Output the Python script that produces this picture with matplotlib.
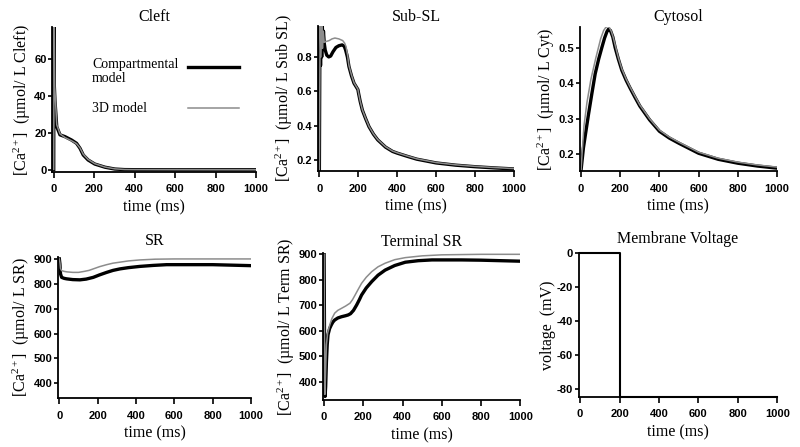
import matplotlib
matplotlib.use("Agg")
import matplotlib.pyplot as plt

plt.rcParams["font.family"] = ["Liberation Serif", "DejaVu Serif"]
plt.rcParams["mathtext.fontset"] = "custom"
plt.rcParams["mathtext.rm"] = "Liberation Serif"
plt.rcParams["mathtext.it"] = "Liberation Serif:italic"
plt.rcParams["axes.unicode_minus"] = False

# ---- data (time in ms) ----
cleft_t_comp = [0, 1, 2, 6, 15, 31, 56, 88, 113, 130, 146, 170, 203, 253, 302, 350, 400, 600, 800, 1000]
cleft_comp = [0.3, 80, 48, 37.8, 23.4, 19, 18, 16.2, 14.4, 11.7, 8.1, 5.4, 3.2, 1.5, 0.5, 0.2, 0.15, 0.1, 0.1, 0.1]
cleft_t_3d = [0, 1, 2.5, 5, 15, 31, 56, 88, 113, 130, 146, 170, 203, 253, 302, 350, 400, 600, 800, 1000]
cleft_3d = [0.3, 40, 80, 45, 24.5, 19.5, 17.5, 15.8, 14.2, 11.9, 8.5, 5.7, 3.4, 1.6, 0.6, 0.25, 0.2, 0.15, 0.12, 0.1]

subsl_t_comp = [0, 3, 6, 9, 12, 15, 18, 21, 25, 30, 38, 48, 58, 70, 85, 100, 117, 128, 135, 144, 152, 165, 178,
                198, 202, 210, 221, 238, 255, 278, 300, 340, 376, 400, 450, 500, 600, 700, 800, 900, 1000]
subsl_comp = [0.14, 0.99, 0.75, 0.99, 0.8, 0.99, 0.85, 0.95, 0.88, 0.84, 0.81, 0.80, 0.805, 0.83, 0.855, 0.865,
              0.87, 0.862, 0.84, 0.80, 0.744, 0.69, 0.647, 0.61, 0.585, 0.54, 0.49, 0.44, 0.394, 0.35, 0.317,
              0.275, 0.25, 0.24, 0.222, 0.205, 0.183, 0.17, 0.161, 0.154, 0.148]
subsl_t_3d = [0, 4, 8, 12, 16, 20, 25, 35, 50, 65, 80, 100, 120, 130, 137, 145, 152, 165, 178, 198, 202, 210, 221,
              238, 255, 278, 300, 340, 376, 400, 450, 500, 600, 700, 800, 900, 1000]
subsl_3d = [0.14, 0.99, 0.8, 0.99, 0.85, 0.95, 0.885, 0.89, 0.895, 0.905, 0.91, 0.905, 0.895, 0.88, 0.86, 0.81,
            0.75, 0.695, 0.65, 0.612, 0.587, 0.542, 0.492, 0.442, 0.396, 0.352, 0.319, 0.277, 0.252, 0.242,
            0.224, 0.207, 0.185, 0.172, 0.163, 0.156, 0.15]

cyto_t_comp = [0, 12, 25, 38, 55, 72, 90, 106, 120, 132, 140, 150, 162, 174, 190, 208, 230, 250, 275, 300, 350,
               400, 450, 500, 600, 700, 800, 900, 1000]
cyto_comp = [0.155, 0.217, 0.265, 0.312, 0.37, 0.426, 0.468, 0.50, 0.527, 0.545, 0.552, 0.548, 0.53, 0.50, 0.468,
             0.436, 0.408, 0.386, 0.36, 0.335, 0.296, 0.264, 0.245, 0.23, 0.202, 0.185, 0.174, 0.166, 0.16]
cyto_t_3d = [0, 5, 15, 30, 50, 75, 100, 115, 125, 135, 145, 155, 165, 175, 190, 208, 230, 250, 275, 300, 350, 400,
             450, 500, 600, 700, 800, 900, 1000]
cyto_3d = [0.155, 0.2, 0.28, 0.345, 0.41, 0.47, 0.525, 0.548, 0.556, 0.56, 0.556, 0.545, 0.527, 0.505, 0.472,
           0.44, 0.411, 0.389, 0.363, 0.338, 0.299, 0.267, 0.248, 0.233, 0.205, 0.188, 0.177, 0.169, 0.163]

sr_t_comp = [0, 3, 6, 12, 25, 38, 70, 107, 140, 177, 210, 247, 280, 316, 360, 420, 490, 560, 700, 800, 1000]
sr_comp = [900, 880, 840, 826, 822, 820, 817, 816, 819, 826, 836, 846, 854, 860, 865, 870, 874, 877, 877, 877, 873]
sr_t_3d = [0, 3, 6, 12, 25, 40, 70, 100, 130, 155, 177, 210, 247, 280, 316, 360, 420, 500, 600, 800, 1000]
sr_3d = [900, 885, 862, 853, 850, 848, 846, 846, 850, 854, 860, 869, 877, 883, 887, 892, 896, 899, 900, 900, 900]

tsr_t_comp = [0, 2, 5, 8, 12, 16, 20, 28, 37, 45, 54, 70, 89, 110, 123, 135, 150, 166, 180, 191, 215, 243, 275,
              311, 360, 414, 480, 550, 700, 800, 1000]
tsr_comp = [900, 600, 342, 380, 479, 545, 584, 608, 623, 634, 642, 650, 655, 659, 662, 667, 680, 701, 722, 740,
            768, 793, 818, 838, 856, 869, 875, 878, 878, 877, 873]
tsr_t_3d = [0, 2, 4, 7, 12, 18, 29, 40, 54, 70, 89, 110, 132, 145, 158, 175, 191, 215, 243, 275, 311, 360, 414,
            500, 600, 800, 1000]
tsr_3d = [900, 600, 350, 420, 545, 590, 623, 648, 669, 680, 688, 697, 708, 722, 740, 764, 786, 810, 832, 851,
          865, 879, 887, 894, 898, 900, 900]

volt_t = [0, 200, 200, 1000]
volt = [0, 0, -84.3, -84.3]

x_ticks = [0, 200, 400, 600, 800, 1000]
legend_labels = ["Compartmental\nmodel", "3D model"]

W, H = 800, 447
fig = plt.figure(figsize=(W / 100, H / 100), dpi=100)


def add_axes(x0, x1, ytop, ybot):
    return fig.add_axes([x0 / W, 1 - ybot / H, (x1 - x0) / W, (ybot - ytop) / H])


def style(ax, title, ylabel, ylim, yticks, title_pad):
    ax.set_xlim(-7, 1000)
    ax.set_ylim(*ylim)
    ax.set_xticks(x_ticks)
    ax.set_yticks(yticks)
    ax.spines["top"].set_visible(False)
    ax.spines["right"].set_visible(False)
    for s in ("left", "bottom"):
        ax.spines[s].set_linewidth(1.3)
    ax.tick_params(axis="x", direction="out", length=4.5, width=1.2, labelsize=8, pad=4.5)
    ax.tick_params(axis="y", direction="out", length=3, width=1.2, labelsize=8, pad=1)
    for lbl in ax.get_xticklabels() + ax.get_yticklabels():
        lbl.set_fontfamily("Liberation Sans")
        lbl.set_fontweight("bold")
    ax.set_title(title, fontsize=11.5, pad=title_pad)
    ax.set_xlabel("time (ms)", fontsize=11.5, labelpad=3.5)
    ax.set_ylabel(ylabel, fontsize=11.5, labelpad=1)


def draw(ax, tc, yc, t3, y3):
    l1, = ax.plot(tc, yc, color="black", lw=2.4, solid_joinstyle="round")
    l2, = ax.plot(t3, y3, color="#8c8c8c", lw=1.1)
    return l1, l2


ca = r"[Ca$^{2+}$]  "

ax1 = add_axes(52.3, 256, 27, 172)
draw(ax1, cleft_t_comp, cleft_comp, cleft_t_3d, cleft_3d)
style(ax1, "Cleft", ca + "(µmol/ L Cleft)", (-1.1, 77.3), [0, 20, 40, 60], 4.5)
# legend drawn as key lines + labels in axes fractions
ax1.text(0.195, 0.785, legend_labels[0], transform=ax1.transAxes, va="top", ha="left",
         fontsize=10, linespacing=1.05)
ax1.text(0.195, 0.416, legend_labels[1], transform=ax1.transAxes, va="baseline", ha="left", fontsize=10)
ax1.plot([0.666, 0.917], [0.724, 0.724], transform=ax1.transAxes, color="black", lw=2.4)
ax1.plot([0.666, 0.917], [0.443, 0.443], transform=ax1.transAxes, color="#8c8c8c", lw=1.1)

ax2 = add_axes(318, 514, 26, 171)
draw(ax2, subsl_t_comp, subsl_comp, subsl_t_3d, subsl_3d)
style(ax2, "Sub-SL", ca + "(µmol/ L Sub SL)", (0.136, 0.98), [0.2, 0.4, 0.6, 0.8], 3.4)

ax3 = add_axes(579.7, 777, 27, 171)
draw(ax3, cyto_t_comp, cyto_comp, cyto_t_3d, cyto_3d)
style(ax3, "Cytosol", ca + "(µmol/ L Cyt)", (0.152, 0.558), [0.2, 0.3, 0.4, 0.5], 4.5)

ax4 = add_axes(58, 251, 256.7, 398.3)
draw(ax4, sr_t_comp, sr_comp, sr_t_3d, sr_3d)
style(ax4, "SR", ca + "(µmol/ L SR)", (340, 909), [400, 500, 600, 700, 800, 900], 8.4)

ax5 = add_axes(322.7, 520.3, 253.3, 400)
draw(ax5, tsr_t_comp, tsr_comp, tsr_t_3d, tsr_3d)
style(ax5, "Terminal SR", ca + "(µmol/ L Term SR)", (328, 904), [400, 500, 600, 700, 800, 900], 5.2)

ax6 = add_axes(578.7, 777.3, 253.3, 396.7)
ax6.plot(volt_t, volt, color="black", lw=1.5, clip_on=False)
style(ax6, "Membrane Voltage", "voltage  (mV)", (-84.3, 0), [-80, -60, -40, -20, 0], 7.6)

fig.savefig("out.png", dpi=100)
